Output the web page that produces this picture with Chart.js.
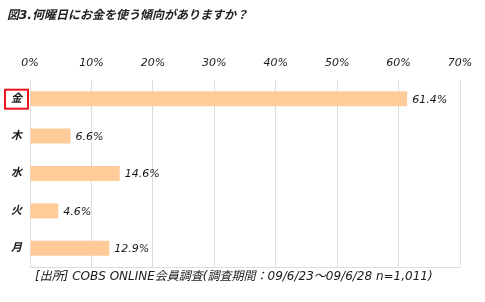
<!DOCTYPE html>
<html>
<head>
<meta charset="utf-8">
<script src="https://cdn.jsdelivr.net/npm/chart.js@4"></script>
<style>
  html, body { margin: 0; padding: 0; background: #fff; }
  #wrap { width: 485px; height: 302px; }
</style>
</head>
<body>
<div id="wrap"><canvas id="chart"></canvas></div>
<script>
// ===== DATA =====
const days = ['金', '木', '水', '火', '月'];
const shares = [61.4, 6.6, 14.6, 4.6, 12.9];
const tickSteps = [0, 10, 20, 30, 40, 50, 60, 70];

const titleText = '図3.何曜日にお金を使う傾向がありますか？';
const sourceText = '[出所] COBS ONLINE会員調査(調査期間：09/6/23～09/6/28 n=1,011)';

const barColor = '#ffcc99';
const gridColor = '#dddddd';
const textColor = '#1a1a1a';
const fontFamily = "'DejaVu Sans', 'Noto Sans CJK JP', sans-serif";

// title, source line, value labels, highlight box and bottom rule
const decorations = {
    id: 'decorations',
    afterDraw(chart) {
        const ctx = chart.ctx;
        const area = chart.chartArea;
        ctx.save();

        // title
        ctx.fillStyle = '#222';
        ctx.font = 'italic bold 12px ' + fontFamily;
        ctx.textBaseline = 'middle';
        ctx.textAlign = 'left';
        ctx.fillText(titleText, 7, 16);

        // bottom rule
        ctx.strokeStyle = gridColor;
        ctx.lineWidth = 1;
        ctx.beginPath();
        ctx.moveTo(area.left, Math.round(area.bottom) + 0.5);
        ctx.lineTo(area.right, Math.round(area.bottom) + 0.5);
        ctx.stroke();

        // value labels
        ctx.fillStyle = textColor;
        ctx.font = 'italic 11px ' + fontFamily;
        chart.getDatasetMeta(0).data.forEach((bar, i) => {
            ctx.fillText(shares[i].toFixed(1) + '%', bar.x + 5, bar.y + 1);
        });

        // red box round the first category
        const yScale = chart.scales.y;
        const yc = yScale.getPixelForTick(0);
        ctx.strokeStyle = '#e8141e';
        ctx.lineWidth = 2;
        ctx.strokeRect(5, yc - 9, 23, 19);

        // source line
        ctx.fillStyle = textColor;
        ctx.font = 'italic 12px ' + fontFamily;
        ctx.fillText(sourceText, 35, 277);

        ctx.restore();
    }
};

new Chart(document.getElementById('chart'), {
    type: 'bar',
    data: {
        labels: days,
        datasets: [{
            data: shares,
            backgroundColor: barColor,
            borderWidth: 0,
            barPercentage: 0.4,
            categoryPercentage: 1.0
        }]
    },
    options: {
        indexAxis: 'y',
        responsive: true,
        maintainAspectRatio: false,
        animation: false,
        layout: {
            padding: { top: 40, right: 25, bottom: 35, left: 0 }
        },
        scales: {
            x: {
                position: 'top',
                min: tickSteps[0],
                max: tickSteps[tickSteps.length - 1],
                afterBuildTicks: (scale) => {
                    scale.ticks = tickSteps.map(v => ({ value: v }));
                },
                afterFit: (scale) => { scale.height = 40; },
                grid: { color: gridColor, drawTicks: false },
                border: { display: false },
                ticks: {
                    padding: 10,
                    color: textColor,
                    font: { family: fontFamily, size: 11, style: 'italic' },
                    callback: (v) => v + '%'
                }
            },
            y: {
                afterFit: (scale) => { scale.width = 30; },
                grid: { display: false },
                border: { display: true, color: gridColor },
                ticks: {
                    crossAlign: 'center',
                    padding: 0,
                    color: textColor,
                    font: { family: fontFamily, size: 11, style: 'italic', weight: 'bold' }
                }
            }
        },
        plugins: {
            legend: { display: false },
            tooltip: { enabled: false }
        }
    },
    plugins: [decorations]
});
</script>
</body>
</html>
